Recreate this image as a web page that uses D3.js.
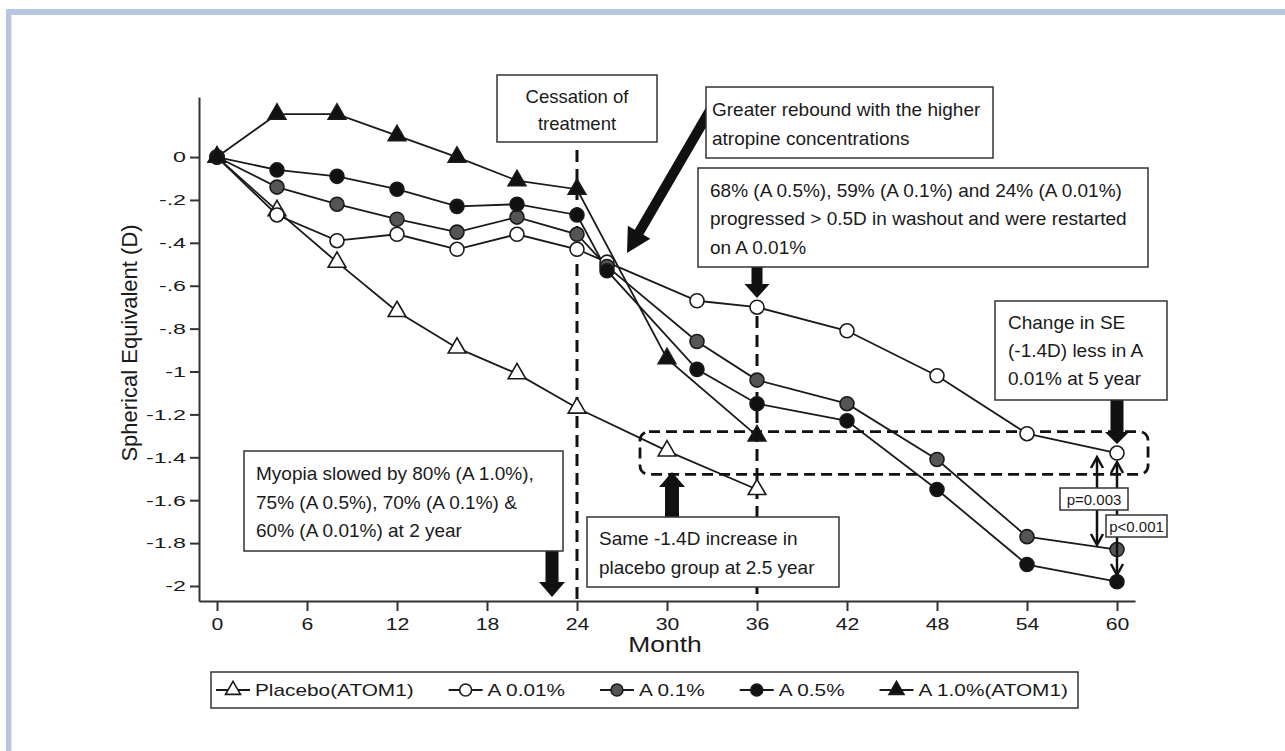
<!DOCTYPE html>
<html><head><meta charset="utf-8">
<script src="https://cdn.jsdelivr.net/npm/d3@7"></script>
<style>body{margin:0;background:#fff}svg{display:block;font-family:"Liberation Sans",Arial,sans-serif}</style>
</head><body>
<svg id="c" width="1285" height="751"></svg>
<script>
// ---------- data ----------
const monthsAtom1 = [0, 4, 8, 12, 16, 20, 24, 30, 36];
const monthsAtom2 = [0, 4, 8, 12, 16, 20, 24, 26, 32, 36, 42, 48, 54, 60];
const placebo = [0, -0.25, -0.49, -0.72, -0.89, -1.01, -1.17, -1.37, -1.55];
const a001 = [0, -0.27, -0.39, -0.36, -0.43, -0.36, -0.43, -0.49, -0.67, -0.70, -0.81, -1.02, -1.29, -1.38];
const a01  = [0, -0.14, -0.22, -0.29, -0.35, -0.28, -0.36, -0.51, -0.86, -1.04, -1.15, -1.41, -1.77, -1.83];
const a05  = [0, -0.06, -0.09, -0.15, -0.23, -0.22, -0.27, -0.53, -0.99, -1.15, -1.23, -1.55, -1.90, -1.98];
const a10  = [0, 0.20, 0.20, 0.10, 0.00, -0.11, -0.15, -0.94, -1.30];
const seriesNames = ["Placebo(ATOM1)", "A 0.01%", "A 0.1%", "A 0.5%", "A 1.0%(ATOM1)"];
const xTicks = [0, 6, 12, 18, 24, 30, 36, 42, 48, 54, 60];
const xTickLabels = ["0", "6", "12", "18", "24", "30", "36", "42", "48", "54", "60"];
const yTicks = [0, -0.2, -0.4, -0.6, -0.8, -1, -1.2, -1.4, -1.6, -1.8, -2];
const yTickLabels = ["0", "-.2", "-.4", "-.6", "-.8", "-1", "-1.2", "-1.4", "-1.6", "-1.8", "-2"];
const xTitle = "Month";
const yTitle = "Spherical Equivalent (D)";

// ---------- setup ----------
const svg = d3.select("#c");
const INK = "#1a1a1a";
// frame
svg.append("rect").attr("x", 6).attr("y", 9).attr("width", 1279).attr("height", 6).attr("fill", "#b8c6e2");
svg.append("rect").attr("x", 6).attr("y", 9).attr("width", 5).attr("height", 742).attr("fill", "#b8c6e2");
svg.append("rect").attr("x", 11).attr("y", 15).attr("width", 1).attr("height", 736).attr("fill", "#dfe6f7");

const x = d3.scaleLinear().domain([-1.2, 61.2]).range([199, 1135]);
const y = d3.scaleLinear().domain([-2.07, 0.28]).range([601, 97]);

const series = [
  {name: seriesNames[0], months: monthsAtom1, vals: placebo, sym: "tri", fill: "#fff"},
  {name: seriesNames[1], months: monthsAtom2, vals: a001, sym: "circ", fill: "#fff"},
  {name: seriesNames[2], months: monthsAtom2, vals: a01, sym: "circ", fill: "#555"},
  {name: seriesNames[3], months: monthsAtom2, vals: a05, sym: "circ", fill: "#111"},
  {name: seriesNames[4], months: monthsAtom1, vals: a10, sym: "tri", fill: "#111"}
];

function stext(g, tx, ty, str, size, sx, anchor) {
  return g.append("text").attr("transform", `translate(${tx},${ty}) scale(${sx},1)`)
    .attr("text-anchor", anchor || "start").attr("font-size", size).attr("fill", INK).text(str);
}
function drawMarker(g, sym, cx, cy, fill, scale) {
  scale = scale || 1;
  if (sym === "circ") {
    g.append("circle").attr("cx", cx).attr("cy", cy).attr("r", 7 * scale)
      .attr("fill", fill).attr("stroke", INK).attr("stroke-width", 1.6);
  } else {
    g.append("path").attr("d", d3.symbol(d3.symbolTriangle, 135 * scale * scale)())
      .attr("transform", `translate(${cx},${cy})`)
      .attr("fill", fill).attr("stroke", INK).attr("stroke-width", 1.6);
  }
}
function blockArrow(x1, y1, x2, y2, sw, hw, hl) {
  const dx = x2 - x1, dy = y2 - y1, L = Math.hypot(dx, dy), ux = dx / L, uy = dy / L, px = -uy, py = ux;
  const bx = x2 - ux * hl, by = y2 - uy * hl;
  const pts = [[x1 + px * sw / 2, y1 + py * sw / 2], [bx + px * sw / 2, by + py * sw / 2], [bx + px * hw / 2, by + py * hw / 2],
    [x2, y2], [bx - px * hw / 2, by - py * hw / 2], [bx - px * sw / 2, by - py * sw / 2], [x1 - px * sw / 2, y1 - py * sw / 2]];
  svg.append("polygon").attr("points", pts.map(p => p.join(",")).join(" ")).attr("fill", "#111");
}
function box(x0, y0, x1, y1) {
  svg.append("rect").attr("x", x0).attr("y", y0).attr("width", x1 - x0).attr("height", y1 - y0)
    .attr("fill", "#fff").attr("stroke", "#333").attr("stroke-width", 1.5);
}
function lines(x0, baselines, strs, size, anchor) {
  strs.forEach((s, i) => svg.append("text").attr("x", x0).attr("y", baselines[i]).attr("font-size", size)
    .attr("text-anchor", anchor || "start").attr("fill", INK).text(s));
}

// ---------- axes ----------
const yAx = svg.append("g").attr("transform", `translate(${x(-1.2)},0)`)
  .call(d3.axisLeft(y).tickValues(yTicks).tickFormat((d, i) => yTickLabels[i]).tickSize(9).tickSizeOuter(0).tickPadding(4));
const xAx = svg.append("g").attr("transform", `translate(0,${y(-2.07)})`)
  .call(d3.axisBottom(x).tickValues(xTicks).tickFormat((d, i) => xTickLabels[i]).tickSize(10).tickSizeOuter(0).tickPadding(7));
[yAx, xAx].forEach(g => {
  g.attr("font-size", null).attr("font-family", null);
  g.selectAll("path,line").attr("stroke", "#333").attr("stroke-width", 2);
  g.selectAll("text").attr("fill", INK);
});
yAx.selectAll(".tick text").attr("font-size", 15).each(function () {
  const t = d3.select(this); const tx = +t.attr("x");
  t.attr("x", 0).attr("transform", `translate(${tx},0) scale(1.55,1)`);
});
xAx.selectAll(".tick text").attr("font-size", 17).attr("transform", "scale(1.25,1)");

stext(svg, 665, 652, xTitle, 22, 1.2, "middle");
svg.append("text").attr("transform", "translate(137,343) rotate(-90)").attr("text-anchor", "middle")
  .attr("font-size", 22).attr("fill", INK).text(yTitle);

// ---------- reference dashed lines ----------
svg.append("line").attr("x1", x(24)).attr("x2", x(24)).attr("y1", 150).attr("y2", y(-2.07))
  .attr("stroke", "#111").attr("stroke-width", 3).attr("stroke-dasharray", "12,7");
svg.append("line").attr("x1", x(36)).attr("x2", x(36)).attr("y1", 316).attr("y2", y(-2.07))
  .attr("stroke", "#111").attr("stroke-width", 3).attr("stroke-dasharray", "12,7");

// ---------- series lines ----------
const lineGen = d3.line().x(d => x(d[0])).y(d => y(d[1]));
series.forEach(s => {
  svg.append("path").attr("d", lineGen(s.months.map((m, i) => [m, s.vals[i]])))
    .attr("fill", "none").attr("stroke", INK).attr("stroke-width", 1.8);
});

// dashed rounded rectangle
svg.append("rect").attr("x", x(28.2)).attr("y", y(-1.28)).attr("width", x(62.07) - x(28.2)).attr("height", y(-1.48) - y(-1.28))
  .attr("rx", 9).attr("fill", "none").attr("stroke", "#111").attr("stroke-width", 2.8).attr("stroke-dasharray", "11,6");

// markers
const mg = svg.append("g");
series.forEach(s => s.months.forEach((m, i) => drawMarker(mg, s.sym, x(m), y(s.vals[i]), s.fill)));

// ---------- annotations ----------
blockArrow(716, 100, 627, 253, 10, 26, 24);
blockArrow(x(36), 262, x(36), 298, 11, 25, 14);
blockArrow(552, 545, 552, 597, 13, 26, 15);
blockArrow(672, 522, 672, 472, 14, 26, 15);
blockArrow(x(60), 395, x(60), 444, 13, 24, 12);

box(497, 75, 657, 142);
lines(577, [103, 130], ["Cessation of", "treatment"], 18.5, "middle");
box(706, 87, 993, 158);
lines(712, [116, 145], ["Greater rebound with the higher", "atropine concentrations"], 19);
box(698, 168, 1148, 267);
lines(710, [197, 225, 254], ["68% (A 0.5%), 59% (A 0.1%) and 24% (A 0.01%)", "progressed > 0.5D in washout and were restarted", "on A 0.01%"], 19);
box(995, 301, 1167, 400);
lines(1008, [329, 357, 385], ["Change in SE", "(-1.4D) less in A", "0.01% at 5 year"], 19);
box(244, 451, 563, 551);
lines(256, [480, 509, 537], ["Myopia slowed by 80% (A 1.0%),", "75% (A 0.5%), 70% (A 0.1%) &", "60% (A 0.01%) at 2 year"], 19);
box(587, 517, 839, 587);
lines(599, [545, 574], ["Same -1.4D increase in", "placebo group at 2.5 year"], 19);

// thin double-headed arrows
function dblArrow(cx, y0, y1) {
  svg.append("line").attr("x1", cx).attr("x2", cx).attr("y1", y0 + 1).attr("y2", y1 - 1).attr("stroke", "#111").attr("stroke-width", 2.5);
  svg.append("polyline").attr("points", `${cx - 6},${y0 + 11} ${cx},${y0} ${cx + 6},${y0 + 11}`).attr("fill", "none").attr("stroke", "#111").attr("stroke-width", 2.5);
  svg.append("polyline").attr("points", `${cx - 6},${y1 - 11} ${cx},${y1} ${cx + 6},${y1 - 11}`).attr("fill", "none").attr("stroke", "#111").attr("stroke-width", 2.5);
}
dblArrow(1097, 457, 545);
dblArrow(x(60), 462, 575);
box(1060, 488, 1128, 510);
lines(1094, [505], ["p=0.003"], 15, "middle");
box(1106, 515, 1167, 537);
lines(1136.5, [532], ["p<0.001"], 15, "middle");

// ---------- legend ----------
box(211, 672, 1078, 708);
const lg = svg.append("g");
const LSX = 1.3, lineW = 34, gapLT = 5, ly = 690;
const lTexts = series.map(s => {
  const t = lg.append("text").attr("font-size", 16).attr("fill", INK).text(s.name);
  return {t, w: t.node().getComputedTextLength() * LSX};
});
const totalW = lTexts.reduce((a, o) => a + lineW + gapLT + o.w, 0);
const gap = (1068 - 216 - totalW) / 4;
let cx0 = 216;
series.forEach((s, i) => {
  lg.append("line").attr("x1", cx0).attr("x2", cx0 + lineW).attr("y1", ly).attr("y2", ly).attr("stroke", INK).attr("stroke-width", 1.8);
  drawMarker(lg, s.sym, cx0 + lineW / 2, ly, s.fill, 0.85);
  lTexts[i].t.attr("transform", `translate(${cx0 + lineW + gapLT},${ly + 6}) scale(${LSX},1)`);
  cx0 += lineW + gapLT + lTexts[i].w + gap;
});
</script>
</body></html>
